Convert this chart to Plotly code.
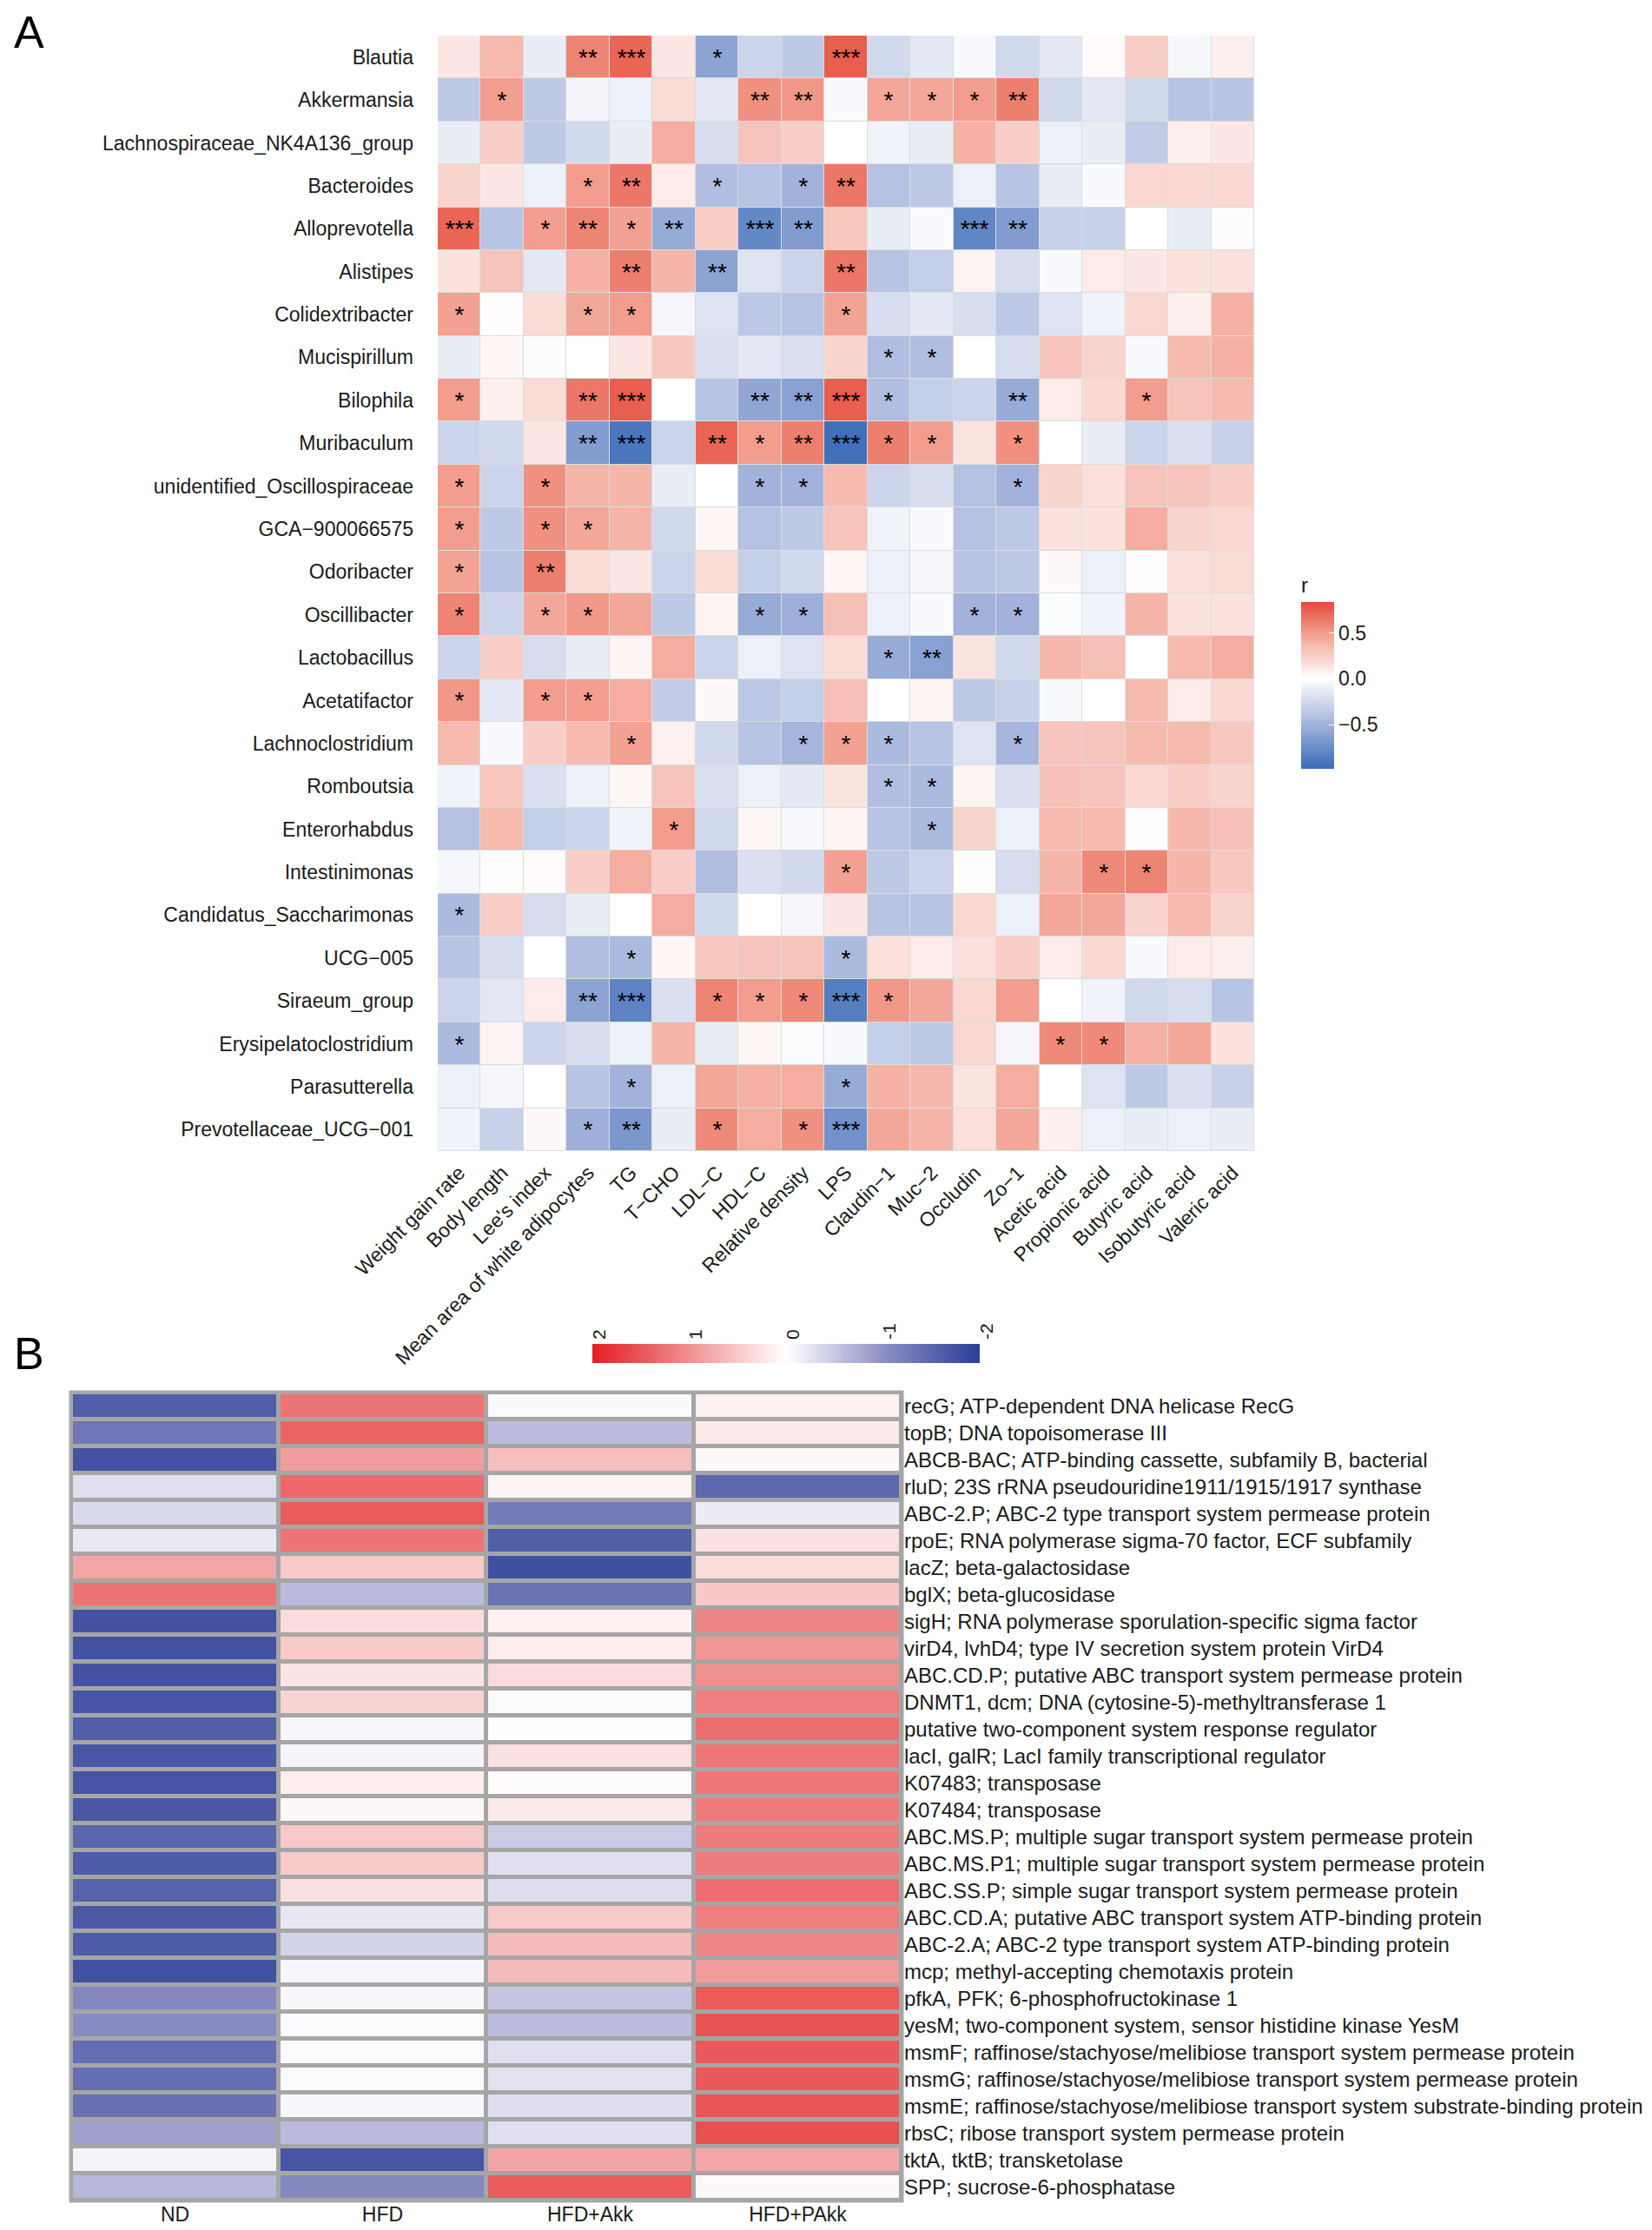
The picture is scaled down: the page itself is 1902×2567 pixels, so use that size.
import plotly.graph_objects as go

W, H = 1902, 2567
FONT = "Arial, 'Liberation Sans', sans-serif"

# ---------------- panel A: genus vs. phenotype correlation ----------------
genera = [
    "Blautia", "Akkermansia", "Lachnospiraceae_NK4A136_group", "Bacteroides",
    "Alloprevotella", "Alistipes", "Colidextribacter", "Mucispirillum", "Bilophila",
    "Muribaculum", "unidentified_Oscillospiraceae", "GCA−900066575", "Odoribacter",
    "Oscillibacter", "Lactobacillus", "Acetatifactor", "Lachnoclostridium",
    "Romboutsia", "Enterorhabdus", "Intestinimonas", "Candidatus_Saccharimonas",
    "UCG−005", "Siraeum_group", "Erysipelatoclostridium", "Parasutterella",
    "Prevotellaceae_UCG−001",
]
traits = [
    "Weight gain rate", "Body length", "Lee's index", "Mean area of white adipocytes",
    "TG", "T−CHO", "LDL−C", "HDL−C", "Relative density", "LPS", "Claudin−1", "Muc−2",
    "Occludin", "Zo−1", "Acetic acid", "Propionic acid", "Butyric acid",
    "Isobutyric acid", "Valeric acid",
]
r_values = [
    [0.12, 0.35, -0.12, 0.6, 0.72, 0.12, -0.6, -0.28, -0.35, 0.75, -0.25, -0.15, -0.04, -0.25, -0.15, 0.02, 0.25, -0.05, 0.08],
    [-0.35, 0.5, -0.35, -0.07, -0.1, 0.18, -0.15, 0.55, 0.52, -0.03, 0.45, 0.45, 0.5, 0.62, -0.25, -0.15, -0.25, -0.38, -0.38],
    [-0.12, 0.25, -0.35, -0.25, -0.12, 0.42, -0.22, 0.3, 0.25, 0.0, -0.08, -0.12, 0.4, 0.25, -0.1, -0.12, -0.33, 0.08, 0.12],
    [0.22, 0.12, -0.1, 0.5, 0.65, 0.1, -0.42, -0.38, -0.5, 0.65, -0.4, -0.35, -0.1, -0.38, -0.12, -0.03, 0.2, 0.2, 0.2],
    [0.72, -0.38, 0.5, 0.6, 0.48, -0.55, 0.25, -0.78, -0.65, 0.28, -0.12, -0.03, -0.8, -0.65, -0.3, -0.3, 0.0, -0.12, -0.02],
    [0.15, 0.3, -0.15, 0.4, 0.62, 0.38, -0.6, -0.18, -0.28, 0.65, -0.38, -0.32, 0.06, -0.22, -0.03, 0.1, 0.12, 0.15, 0.15],
    [0.48, 0.01, 0.18, 0.45, 0.5, -0.06, -0.18, -0.36, -0.38, 0.47, -0.22, -0.14, -0.22, -0.36, -0.18, -0.08, 0.2, 0.08, 0.4],
    [-0.12, 0.04, -0.02, 0.0, 0.12, 0.28, -0.2, -0.15, -0.2, 0.22, -0.42, -0.42, 0.0, -0.22, 0.3, 0.22, -0.04, 0.35, 0.4],
    [0.5, 0.08, 0.18, 0.65, 0.75, 0.0, -0.38, -0.58, -0.62, 0.75, -0.42, -0.32, -0.28, -0.55, 0.1, 0.2, 0.5, 0.3, 0.35],
    [-0.28, -0.25, 0.12, -0.65, -0.9, -0.28, 0.72, 0.5, 0.62, -0.95, 0.62, 0.5, 0.14, 0.55, 0.0, -0.12, -0.28, -0.2, -0.3],
    [0.5, -0.28, 0.55, 0.38, 0.38, -0.12, 0.0, -0.5, -0.5, 0.35, -0.28, -0.22, -0.4, -0.5, 0.22, 0.16, 0.3, 0.3, 0.25],
    [0.5, -0.35, 0.55, 0.45, 0.38, -0.25, 0.04, -0.4, -0.35, 0.3, -0.08, -0.03, -0.4, -0.35, 0.15, 0.15, 0.42, 0.22, 0.2],
    [0.47, -0.38, 0.62, 0.18, 0.12, -0.28, 0.18, -0.32, -0.25, 0.04, -0.1, -0.05, -0.38, -0.35, 0.03, -0.1, 0.01, 0.15, 0.18],
    [0.6, -0.28, 0.45, 0.52, 0.45, -0.35, 0.06, -0.55, -0.52, 0.32, -0.1, -0.03, -0.5, -0.5, -0.02, -0.08, 0.38, 0.15, 0.15],
    [-0.28, 0.25, -0.22, -0.12, 0.05, 0.42, -0.28, -0.1, -0.18, 0.18, -0.55, -0.62, 0.14, -0.25, 0.36, 0.32, 0.0, 0.35, 0.42],
    [0.52, -0.14, 0.5, 0.5, 0.42, -0.33, 0.03, -0.36, -0.32, 0.32, 0.0, 0.05, -0.35, -0.3, -0.04, 0.0, 0.35, 0.1, 0.2],
    [0.35, -0.03, 0.25, 0.35, 0.48, 0.07, -0.25, -0.38, -0.48, 0.48, -0.45, -0.38, -0.18, -0.48, 0.3, 0.3, 0.35, 0.35, 0.28],
    [-0.08, 0.28, -0.2, -0.1, 0.04, 0.3, -0.2, -0.1, -0.14, 0.14, -0.42, -0.45, 0.06, -0.2, 0.32, 0.3, 0.2, 0.25, 0.22],
    [-0.4, 0.35, -0.32, -0.28, -0.08, 0.5, -0.25, 0.04, -0.03, 0.05, -0.38, -0.45, 0.22, -0.1, 0.35, 0.35, 0.01, 0.36, 0.32],
    [-0.05, 0.01, 0.02, 0.25, 0.42, 0.25, -0.42, -0.2, -0.25, 0.48, -0.35, -0.28, 0.01, -0.22, 0.38, 0.58, 0.6, 0.38, 0.28],
    [-0.45, 0.25, -0.22, -0.12, 0.0, 0.42, -0.25, 0.0, -0.06, 0.12, -0.38, -0.38, 0.2, -0.1, 0.45, 0.45, 0.22, 0.35, 0.22],
    [-0.38, -0.22, 0.0, -0.42, -0.45, 0.04, 0.28, 0.3, 0.3, -0.45, 0.16, 0.1, 0.16, 0.25, 0.1, 0.2, -0.03, 0.1, 0.08],
    [-0.28, -0.15, 0.1, -0.6, -0.82, -0.2, 0.6, 0.5, 0.58, -0.85, 0.52, 0.45, 0.2, 0.5, 0.0, -0.08, -0.25, -0.22, -0.38],
    [-0.45, 0.06, -0.28, -0.22, -0.1, 0.38, -0.12, 0.04, -0.02, -0.04, -0.32, -0.35, 0.2, -0.06, 0.58, 0.58, 0.4, 0.45, 0.15],
    [-0.1, -0.06, 0.0, -0.38, -0.5, -0.1, 0.45, 0.4, 0.42, -0.55, 0.4, 0.36, 0.14, 0.42, 0.0, -0.18, -0.35, -0.2, -0.3],
    [-0.08, -0.3, 0.03, -0.52, -0.68, -0.12, 0.58, 0.42, 0.55, -0.72, 0.45, 0.38, 0.16, 0.45, 0.08, -0.1, -0.12, -0.1, -0.12],
]
# number of significance stars per cell
r_stars = [
    [0, 0, 0, 2, 3, 0, 1, 0, 0, 3, 0, 0, 0, 0, 0, 0, 0, 0, 0],
    [0, 1, 0, 0, 0, 0, 0, 2, 2, 0, 1, 1, 1, 2, 0, 0, 0, 0, 0],
    [0, 0, 0, 0, 0, 0, 0, 0, 0, 0, 0, 0, 0, 0, 0, 0, 0, 0, 0],
    [0, 0, 0, 1, 2, 0, 1, 0, 1, 2, 0, 0, 0, 0, 0, 0, 0, 0, 0],
    [3, 0, 1, 2, 1, 2, 0, 3, 2, 0, 0, 0, 3, 2, 0, 0, 0, 0, 0],
    [0, 0, 0, 0, 2, 0, 2, 0, 0, 2, 0, 0, 0, 0, 0, 0, 0, 0, 0],
    [1, 0, 0, 1, 1, 0, 0, 0, 0, 1, 0, 0, 0, 0, 0, 0, 0, 0, 0],
    [0, 0, 0, 0, 0, 0, 0, 0, 0, 0, 1, 1, 0, 0, 0, 0, 0, 0, 0],
    [1, 0, 0, 2, 3, 0, 0, 2, 2, 3, 1, 0, 0, 2, 0, 0, 1, 0, 0],
    [0, 0, 0, 2, 3, 0, 2, 1, 2, 3, 1, 1, 0, 1, 0, 0, 0, 0, 0],
    [1, 0, 1, 0, 0, 0, 0, 1, 1, 0, 0, 0, 0, 1, 0, 0, 0, 0, 0],
    [1, 0, 1, 1, 0, 0, 0, 0, 0, 0, 0, 0, 0, 0, 0, 0, 0, 0, 0],
    [1, 0, 2, 0, 0, 0, 0, 0, 0, 0, 0, 0, 0, 0, 0, 0, 0, 0, 0],
    [1, 0, 1, 1, 0, 0, 0, 1, 1, 0, 0, 0, 1, 1, 0, 0, 0, 0, 0],
    [0, 0, 0, 0, 0, 0, 0, 0, 0, 0, 1, 2, 0, 0, 0, 0, 0, 0, 0],
    [1, 0, 1, 1, 0, 0, 0, 0, 0, 0, 0, 0, 0, 0, 0, 0, 0, 0, 0],
    [0, 0, 0, 0, 1, 0, 0, 0, 1, 1, 1, 0, 0, 1, 0, 0, 0, 0, 0],
    [0, 0, 0, 0, 0, 0, 0, 0, 0, 0, 1, 1, 0, 0, 0, 0, 0, 0, 0],
    [0, 0, 0, 0, 0, 1, 0, 0, 0, 0, 0, 1, 0, 0, 0, 0, 0, 0, 0],
    [0, 0, 0, 0, 0, 0, 0, 0, 0, 1, 0, 0, 0, 0, 0, 1, 1, 0, 0],
    [1, 0, 0, 0, 0, 0, 0, 0, 0, 0, 0, 0, 0, 0, 0, 0, 0, 0, 0],
    [0, 0, 0, 0, 1, 0, 0, 0, 0, 1, 0, 0, 0, 0, 0, 0, 0, 0, 0],
    [0, 0, 0, 2, 3, 0, 1, 1, 1, 3, 1, 0, 0, 0, 0, 0, 0, 0, 0],
    [1, 0, 0, 0, 0, 0, 0, 0, 0, 0, 0, 0, 0, 0, 1, 1, 0, 0, 0],
    [0, 0, 0, 0, 1, 0, 0, 0, 0, 1, 0, 0, 0, 0, 0, 0, 0, 0, 0],
    [0, 0, 0, 1, 2, 0, 1, 0, 1, 3, 0, 0, 0, 0, 0, 0, 0, 0, 0],
]
r_min, r_max = -0.98, 0.835

# ---------------- panel B: KEGG genes by group (row z-score) ----------------
genes = [
    "recG; ATP-dependent DNA helicase RecG",
    "topB; DNA topoisomerase III",
    "ABCB-BAC; ATP-binding cassette, subfamily B, bacterial",
    "rluD; 23S rRNA pseudouridine1911/1915/1917 synthase",
    "ABC-2.P; ABC-2 type transport system permease protein",
    "rpoE; RNA polymerase sigma-70 factor, ECF subfamily",
    "lacZ; beta-galactosidase",
    "bglX; beta-glucosidase",
    "sigH; RNA polymerase sporulation-specific sigma factor",
    "virD4, lvhD4; type IV secretion system protein VirD4",
    "ABC.CD.P; putative ABC transport system permease protein",
    "DNMT1, dcm; DNA (cytosine-5)-methyltransferase 1",
    "putative two-component system response regulator",
    "lacI, galR; LacI family transcriptional regulator",
    "K07483; transposase",
    "K07484; transposase",
    "ABC.MS.P; multiple sugar transport system permease protein",
    "ABC.MS.P1; multiple sugar transport system permease protein",
    "ABC.SS.P; simple sugar transport system permease protein",
    "ABC.CD.A; putative ABC transport system ATP-binding protein",
    "ABC-2.A; ABC-2 type transport system ATP-binding protein",
    "mcp; methyl-accepting chemotaxis protein",
    "pfkA, PFK; 6-phosphofructokinase 1",
    "yesM; two-component system, sensor histidine kinase YesM",
    "msmF; raffinose/stachyose/melibiose transport system permease protein",
    "msmG; raffinose/stachyose/melibiose transport system permease protein",
    "msmE; raffinose/stachyose/melibiose transport system substrate-binding protein",
    "rbsC; ribose transport system permease protein",
    "tktA, tktB; transketolase",
    "SPP; sucrose-6-phosphatase",
]
groups = ["ND", "HFD", "HFD+Akk", "HFD+PAkk"]
gene_z = [
    [-1.6, 1.24, -0.05, 0.13],
    [-1.3, 1.38, -0.6, 0.2],
    [-1.75, 0.88, 0.59, 0.06],
    [-0.29, 1.33, 0.1, -1.47],
    [-0.35, 1.45, -1.25, -0.17],
    [-0.2, 1.24, -1.6, 0.27],
    [0.8, 0.49, -1.78, 0.32],
    [1.24, -0.62, -1.35, 0.5],
    [-1.75, 0.32, 0.13, 1.1],
    [-1.75, 0.48, 0.16, 0.94],
    [-1.75, 0.25, 0.32, 1.0],
    [-1.7, 0.4, -0.04, 1.15],
    [-1.6, -0.08, 0.02, 1.3],
    [-1.68, -0.1, 0.28, 1.22],
    [-1.72, 0.16, 0.04, 1.22],
    [-1.68, 0.06, 0.19, 1.18],
    [-1.5, 0.49, -0.47, 1.18],
    [-1.63, 0.48, -0.29, 1.18],
    [-1.55, 0.28, -0.3, 1.3],
    [-1.66, -0.21, 0.48, 1.15],
    [-1.63, -0.4, 0.62, 1.07],
    [-1.77, -0.08, 0.62, 0.9],
    [-1.1, -0.06, -0.52, 1.45],
    [-1.06, -0.04, -0.6, 1.5],
    [-1.4, -0.04, -0.29, 1.46],
    [-1.4, -0.04, -0.26, 1.46],
    [-1.37, -0.06, -0.3, 1.49],
    [-0.84, -0.62, -0.29, 1.54],
    [-0.1, -1.7, 0.82, 0.8],
    [-0.65, -1.1, 1.45, 0.06],
]
scale_ticks = [2, 1, 0, -1, -2]

# ---------------- colour scales ----------------
def pos(v):
    return (v - r_min) / (r_max - r_min)

scale_a = [
    [0.0, "#3A6BB8"],
    [pos(-0.5), "#A2B2DB"],
    [pos(0.0), "#FFFFFF"],
    [pos(0.5), "#F29D8D"],
    [1.0, "#E5493A"],
]
# panel B legend runs from 2 (left, red) to -2 (right, blue), so z is drawn negated
scale_b = [
    [0.0, "#E31E24"], [0.125, "#E95555"], [0.25, "#F09090"], [0.375, "#F8C8C8"],
    [0.5, "#FFFFFF"], [0.625, "#C8C8E4"], [0.75, "#8E90C4"], [0.875, "#5A66AD"],
    [1.0, "#2B3E96"],
]

fig = go.Figure()

fig.add_trace(go.Heatmap(
    z=r_values, x=traits, y=genera,
    zmin=r_min, zmax=r_max, colorscale=scale_a,
    text=[["*" * n for n in row] for row in r_stars],
    texttemplate="%{text}",
    textfont=dict(size=28, color="black", family=FONT),
    xgap=1, ygap=1,
    xaxis="x", yaxis="y",
    colorbar=dict(
        x=1490 / W, xanchor="left", y=1 - 877 / H, yanchor="bottom",
        len=224 / H, lenmode="fraction", thickness=38, outlinewidth=0,
        xpad=0, ypad=0,
        title=dict(text="r", side="top", font=dict(size=24, family=FONT, color="#1a1a1a")),
        tickvals=[-0.5, 0, 0.5], ticktext=["−0.5", "0.0", "0.5"],
        ticks="inside", tickcolor="white", ticklen=6,
        tickfont=dict(size=23, family=FONT, color="#1a1a1a"),
    ),
))

fig.add_trace(go.Heatmap(
    z=[[-v for v in row] for row in gene_z], customdata=gene_z,
    x=groups, y=genes,
    zmin=-2, zmax=2, colorscale=scale_b,
    xgap=5, ygap=5,
    hovertemplate="%{y}<br>%{x}: %{customdata}<extra></extra>",
    xaxis="x2", yaxis="y2",
    colorbar=dict(
        orientation="h", x=897 / W, xanchor="center", y=1 - 1550 / H, yanchor="middle",
        len=446 / W, lenmode="fraction", thickness=22, outlinewidth=0,
        xpad=0, ypad=0, showticklabels=False, ticks="",
    ),
))

# empty trace that carries the top axis with the legend labels of panel B
fig.add_trace(go.Scatter(x=[], y=[], xaxis="x3", yaxis="y3", showlegend=False))

axis_font = dict(size=23, family=FONT, color="#1a1a1a")
fig.update_layout(
    width=W, height=H,
    margin=dict(l=0, r=0, t=0, b=0, autoexpand=False),
    paper_bgcolor="white", plot_bgcolor="white",
    showlegend=False,
    xaxis=dict(domain=[496 / W, 1436 / W], anchor="y", tickangle=-45, tickfont=axis_font,
               showgrid=False, zeroline=False, ticks="", ticklabelstandoff=6,
               automargin=False),
    yaxis=dict(domain=[1 - 1317 / H, 1 - 33 / H], anchor="x", autorange="reversed",
               tickfont=axis_font, showgrid=False, zeroline=False, ticks="",
               ticklabelstandoff=27, automargin=False),
    xaxis2=dict(domain=[74 / W, 1030 / W], anchor="y2", tickfont=axis_font,
                showgrid=False, zeroline=False, ticks="", ticklabelstandoff=0,
                automargin=False),
    yaxis2=dict(domain=[1 - 2525 / H, 1 - 1595 / H], anchor="x2", side="right",
                autorange="reversed", tickfont=dict(size=24, family=FONT, color="#1a1a1a"),
                showgrid=False, zeroline=False, ticks="", ticklabelstandoff=2,
                automargin=False),
    xaxis3=dict(domain=[682 / W, 1128 / W], anchor="y3", side="top",
                range=[scale_ticks[0], scale_ticks[-1]], tickvals=scale_ticks,
                ticktext=[str(t) for t in scale_ticks], tickangle=-90,
                tickfont=dict(size=21, family=FONT, color="#1a1a1a"),
                showgrid=False, zeroline=False, showline=False, ticks="",
                ticklabelstandoff=4, fixedrange=True, automargin=False),
    yaxis3=dict(domain=[1 - 1561 / H, 1 - 1539 / H], anchor="x3", visible=False,
                range=[0, 1], fixedrange=True),
    shapes=[
        dict(type="rect", xref="x domain", yref="y domain", x0=0, x1=1, y0=0, y1=1,
             fillcolor="#DCDCDC", line=dict(width=0), layer="below"),
        dict(type="rect", xref="x2 domain", yref="y2 domain", x0=0, x1=1, y0=0, y1=1,
             fillcolor="#A6A6A6", line=dict(color="#A6A6A6", width=5), layer="below"),
    ],
    annotations=[
        dict(text="A", x=25 / W, y=1 - 29 / H, xref="paper", yref="paper",
             xanchor="center", yanchor="middle",
             showarrow=False, font=dict(size=52, family=FONT, color="black")),
        dict(text="B", x=25 / W, y=1 - 1550 / H, xref="paper", yref="paper",
             xanchor="center", yanchor="middle",
             showarrow=False, font=dict(size=52, family=FONT, color="black")),
    ],
)

fig.write_html("out.html")
